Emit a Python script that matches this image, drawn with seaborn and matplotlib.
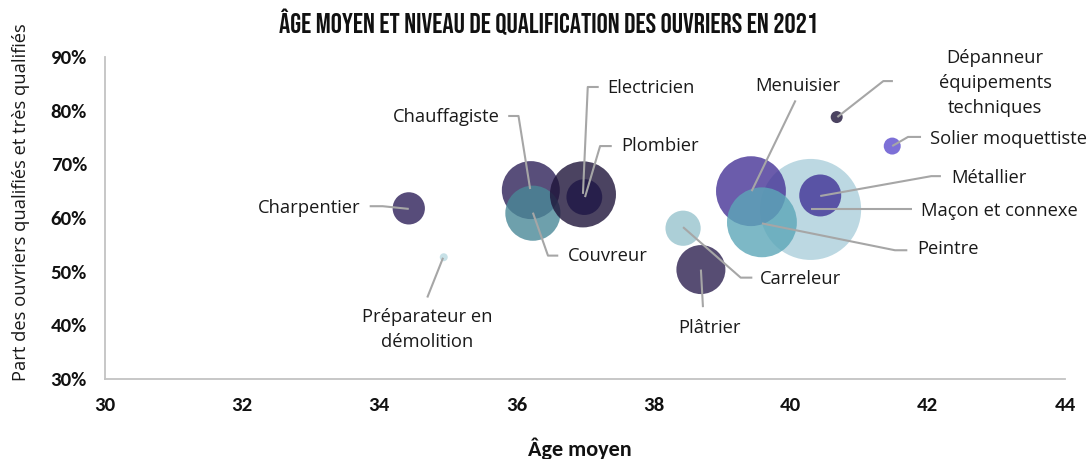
import pandas as pd
import matplotlib.pyplot as plt
from matplotlib.ticker import PercentFormatter
import seaborn as sns

# bubble data: mean age, share of qualified workers (%), headcount (bubble area)
metiers = ['Maçon et connexe', 'Charpentier', 'Préparateur en démolition', 'Chauffagiste',
           'Couvreur', 'Electricien', 'Plombier', 'Carreleur', 'Plâtrier', 'Menuisier',
           'Peintre', 'Métallier', 'Dépanneur équipements techniques', 'Solier moquettiste']
age_moyen = [40.29, 34.43, 34.94, 36.21, 36.24, 36.97, 36.99, 38.43, 38.69, 39.42,
             39.58, 40.43, 40.67, 41.48]
part_qualifies = [61.6, 61.8, 52.7, 65.2, 60.9, 64.4, 63.9, 58.1, 50.4, 65.0,
                  59.2, 64.2, 78.8, 73.4]
effectif = [255, 26, 1.6, 84, 76, 109, 32, 31, 60, 122, 122, 44, 3.6, 7.2]
couleurs = ['#abcfdb', '#2d1f59', '#badae2', '#2e2259', '#4a8897', '#1e1439', '#1f1746',
            '#97c4ce', '#2d2150', '#463396', '#5ca7b8', '#413296', '#1e1439', '#5c4ccd']

# label text position (x, y), alignment, and leader line points
labels = {
    'Charpentier': ((33.73, 61.8), 'right', [(33.86, 62.2), (34.05, 62.2), (34.43, 61.7)]),
    'Préparateur en\ndémolition': ((34.70, 39.3), 'center', [(34.70, 45.2), (34.93, 52.6)]),
    'Chauffagiste': ((35.76, 78.8), 'right', [(35.88, 79.0), (36.03, 79.0), (36.20, 65.4)]),
    'Electricien': ((37.32, 84.2), 'left', [(37.20, 84.4), (37.04, 84.4), (36.97, 64.5)]),
    'Plombier': ((37.53, 73.4), 'left', [(37.39, 73.4), (37.22, 73.4), (37.00, 63.9)]),
    'Couvreur': ((36.75, 52.9), 'left', [(36.24, 61.0), (36.46, 53.0), (36.61, 53.0)]),
    'Menuisier': ((40.10, 84.6), 'center', [(40.07, 81.9), (39.43, 65.0)]),
    'Carreleur': ((39.55, 48.6), 'left', [(38.43, 58.3), (39.27, 48.9), (39.44, 48.9)]),
    'Plâtrier': ((38.82, 39.6), 'center', [(38.69, 50.4), (38.72, 43.4)]),
    'Dépanneur\néquipements\ntechniques': ((42.98, 85.1), 'center',
                                           [(41.49, 85.5), (41.35, 85.5), (40.68, 78.8)]),
    'Solier moquettiste': ((42.03, 74.7), 'left', [(41.90, 75.1), (41.71, 75.1), (41.48, 73.4)]),
    'Métallier': ((42.34, 67.4), 'left', [(42.19, 67.8), (42.05, 67.8), (40.43, 64.1)]),
    'Maçon et connexe': ((41.90, 61.3), 'left', [(41.77, 61.6), (40.30, 61.6)]),
    'Peintre': ((41.84, 54.2), 'left', [(41.70, 54.0), (41.52, 54.0), (39.58, 59.0)]),
}

df = pd.DataFrame({'Métier': metiers, 'Âge moyen': age_moyen,
                   'Part': part_qualifies, 'Effectif': effectif})

sns.set_style('white')
plt.rcParams['font.family'] = ['Open Sans', 'DejaVu Sans']
tick_font = ['Carlito', 'DejaVu Sans']

fig = plt.figure(figsize=(10.89, 4.59), dpi=100)
ax = fig.add_axes([0.0964, 0.174, 0.8816, 0.702])

sns.scatterplot(data=df, x='Âge moyen', y='Part', hue='Métier', size='Effectif',
                palette=dict(zip(metiers, couleurs)), sizes=(0, 5290), size_norm=(0, 255),
                alpha=0.8, linewidth=0, legend=False, ax=ax)

for txt, (pos, ha, pts) in labels.items():
    xs, ys = zip(*pts)
    ax.plot(xs, ys, color='#a6a6a6', lw=1.5, solid_capstyle='butt', zorder=3)
    ax.text(pos[0], pos[1], txt, ha=ha, va='center', fontsize=13.2, color='#1a1a1a',
            linespacing=1.5, zorder=4)

ax.set_xlim(30, 44)
ax.set_ylim(30, 90)
ax.set_xticks(range(30, 45, 2))
ax.set_yticks(range(30, 91, 10))
ax.yaxis.set_major_formatter(PercentFormatter(decimals=0))
for lab in ax.get_xticklabels() + ax.get_yticklabels():
    lab.set_family(tick_font)
    lab.set_fontweight('bold')
    lab.set_fontsize(15)
    lab.set_color('#111111')
ax.tick_params(axis='x', pad=13, length=0)
ax.tick_params(axis='y', pad=13, length=0)

for side in ['top', 'right']:
    ax.spines[side].set_visible(False)
for side in ['left', 'bottom']:
    ax.spines[side].set_color('#c3c3c3')
    ax.spines[side].set_linewidth(1.3)

ax.set_xlabel('Âge moyen', family=tick_font, fontweight='bold', fontsize=16,
              color='#111111')
ax.xaxis.set_label_coords(0.495, -0.18)
ax.set_ylabel('Part des ouvriers qualifiés et très qualifiés', fontsize=13.2,
              color='#1a1a1a')
ax.yaxis.set_label_coords(-0.078, 0.55)

fig.text(0.5035, 0.953, 'ÂGE MOYEN ET NIVEAU DE QUALIFICATION DES OUVRIERS EN 2021',
         ha='center', va='center', family=['Bebas Neue', 'DejaVu Sans'],
         fontsize=20.2, color='#111111')

fig.savefig('out.png', dpi=100)
